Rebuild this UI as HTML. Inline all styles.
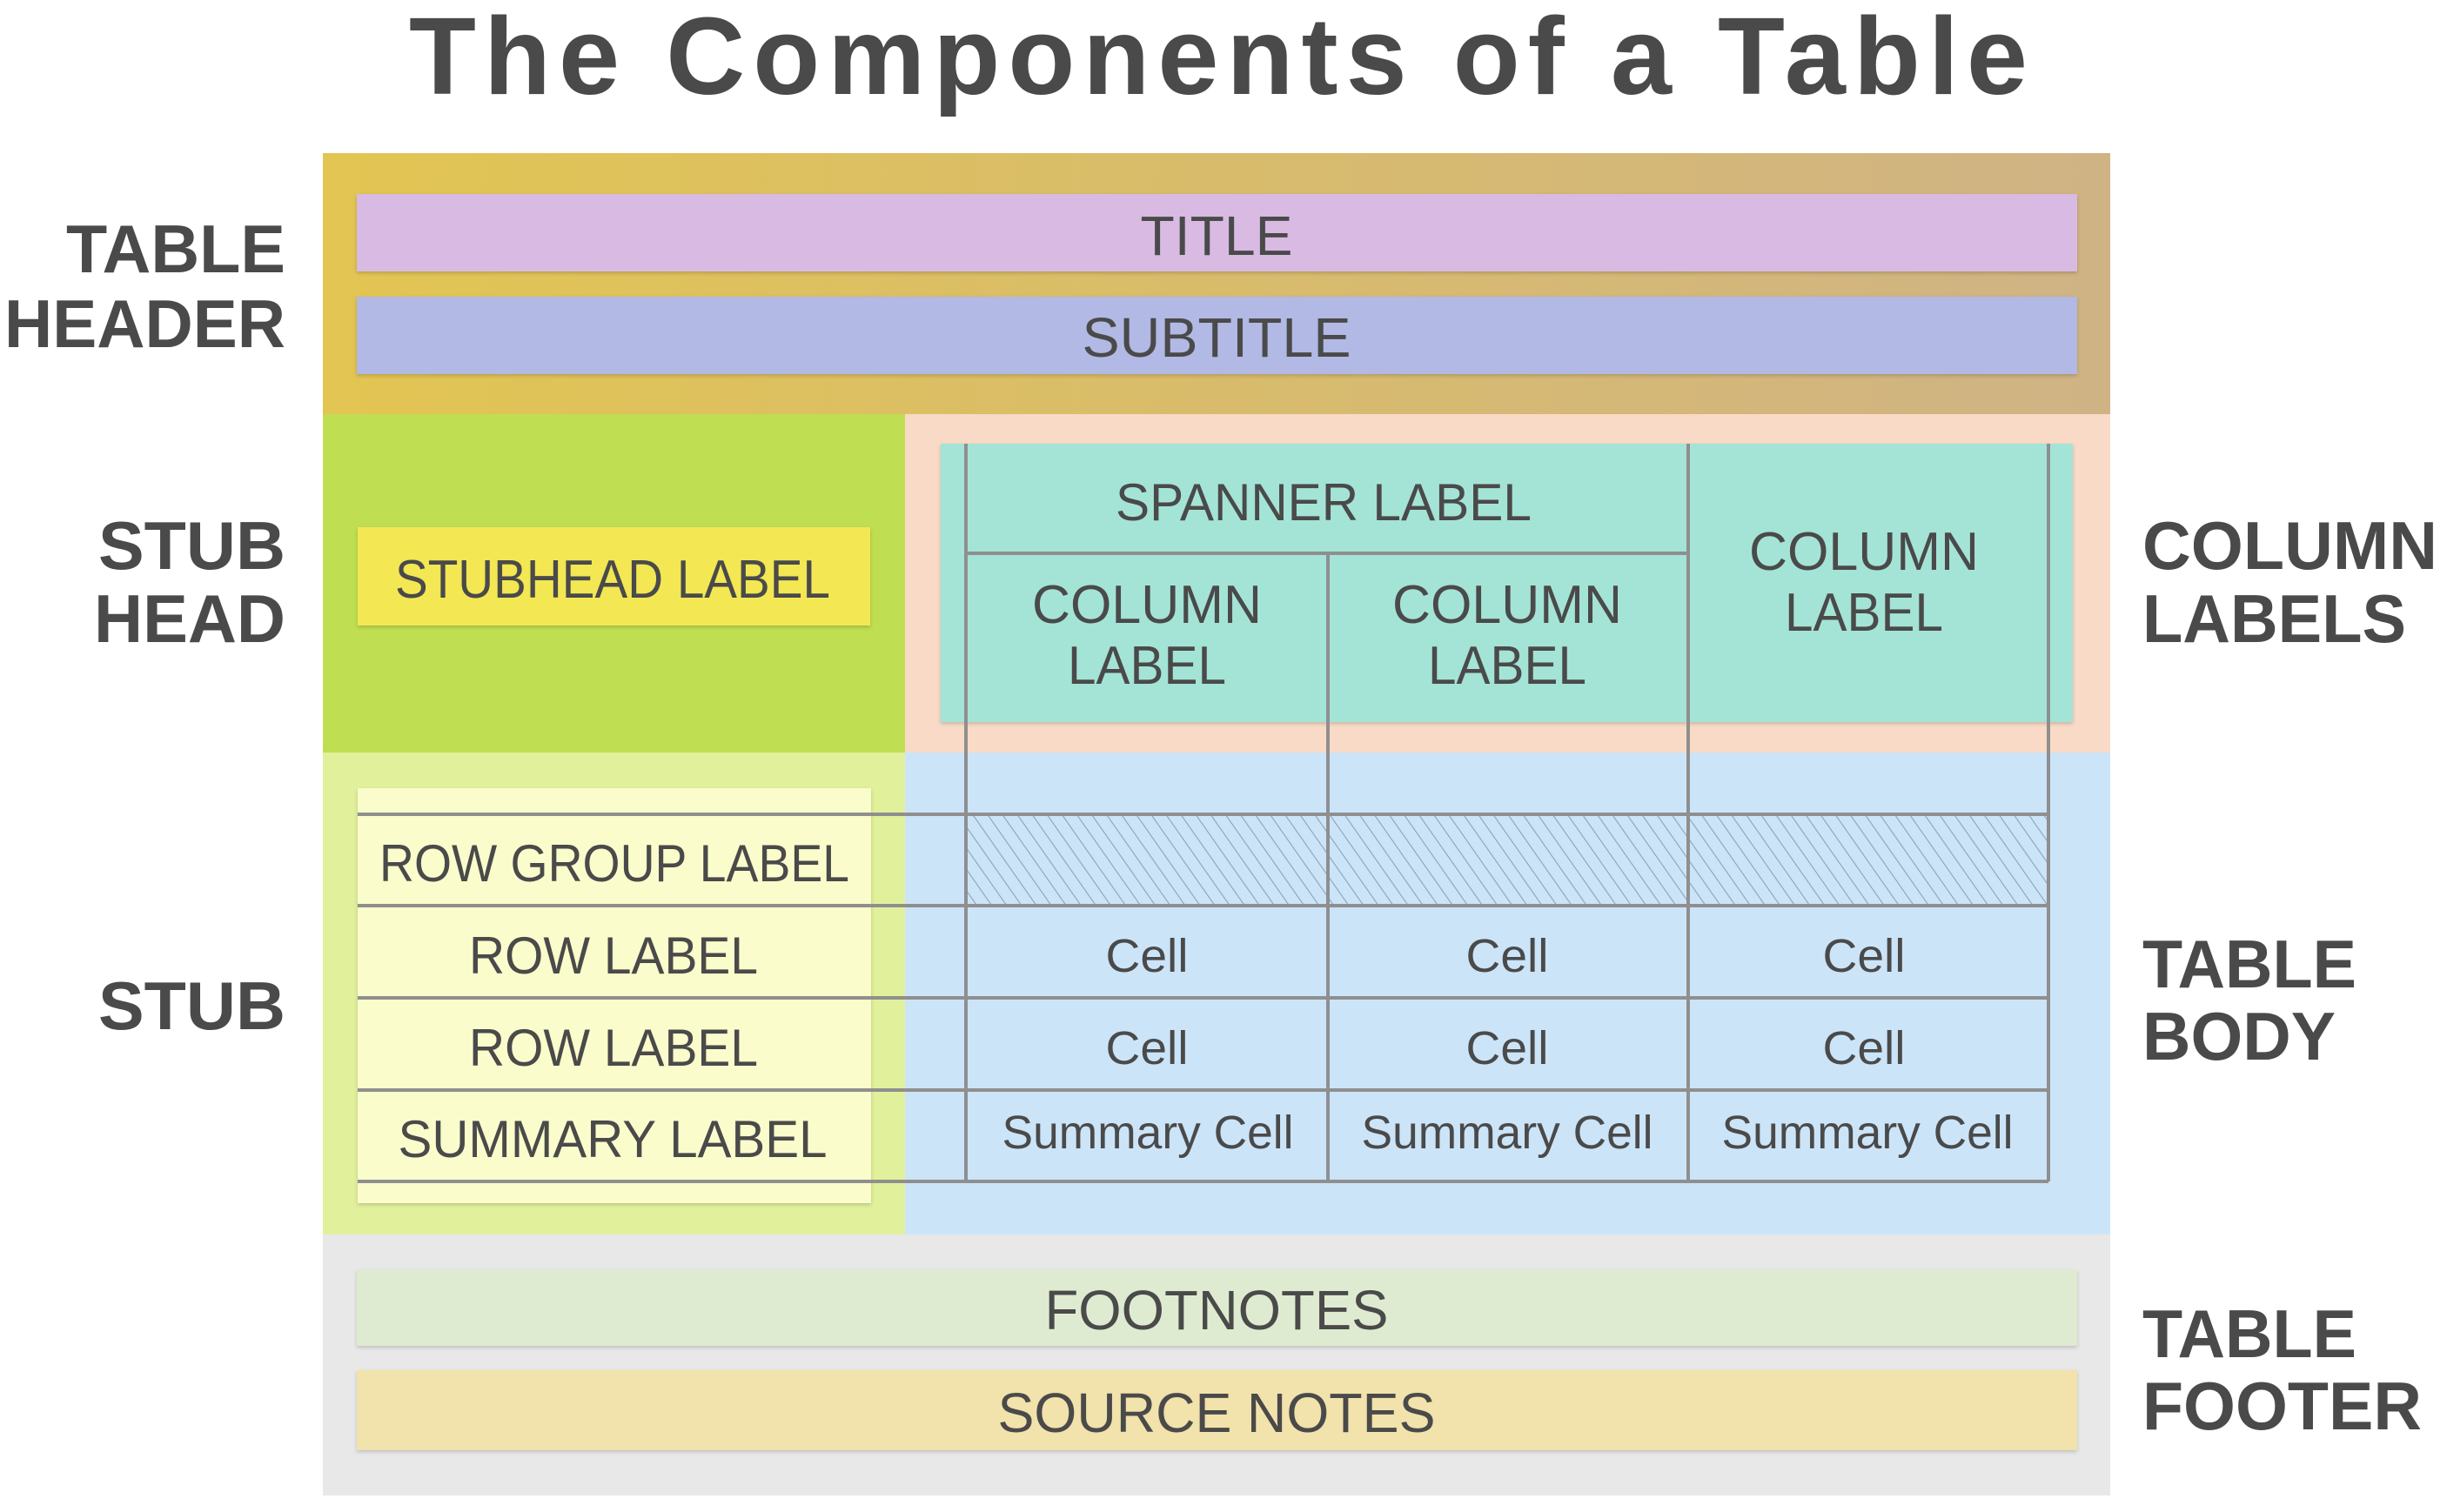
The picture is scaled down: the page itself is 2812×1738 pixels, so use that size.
<!DOCTYPE html>
<html><head><meta charset="utf-8"><style>
html,body{margin:0;padding:0;background:#fff;}
svg{display:block;}
text{font-family:"Liberation Sans",sans-serif;fill:#4a4a4a;}
</style></head><body>
<svg width="2812" height="1738" viewBox="0 0 2812 1738" xmlns="http://www.w3.org/2000/svg">
<defs>
<linearGradient id="hg" x1="0" x2="1" y1="0" y2="0"><stop offset="0" stop-color="#e2c552"/><stop offset="1" stop-color="#cfb385"/></linearGradient>
<pattern id="hatch" width="14" height="14" patternUnits="userSpaceOnUse" patternTransform="rotate(-35)">
<rect width="14" height="14" fill="#cce4f8"/><line x1="0" y1="0" x2="0" y2="14" stroke="#8aa3b8" stroke-width="2.2"/></pattern>
<filter id="sh" x="-5%" y="-20%" width="110%" height="140%"><feDropShadow dx="0" dy="2" stdDeviation="2" flood-color="#000" flood-opacity="0.18"/></filter>
</defs>
<text x="1400" y="108" text-anchor="middle" font-size="126" font-weight="bold" textLength="1860" lengthAdjust="spacing">The Components of a Table</text>

<!-- header -->
<rect x="371" y="176" width="2054" height="300" fill="url(#hg)"/>
<rect x="410" y="223" width="1977" height="89" fill="#d8bae3" filter="url(#sh)"/>
<rect x="410" y="341" width="1977" height="89" fill="#b1b9e4" filter="url(#sh)"/>
<text x="1398" y="293" text-anchor="middle" font-size="64" textLength="175" lengthAdjust="spacingAndGlyphs">TITLE</text>
<text x="1398" y="410" text-anchor="middle" font-size="64" textLength="309" lengthAdjust="spacingAndGlyphs">SUBTITLE</text>

<!-- stub head / column labels -->
<rect x="371" y="476" width="669" height="389" fill="#c0de52"/>
<rect x="1040" y="476" width="1385" height="389" fill="#f8dac6"/>
<rect x="411" y="606" width="589" height="113" fill="#f3e752" filter="url(#sh)"/>
<text x="704" y="687" text-anchor="middle" font-size="62" textLength="500" lengthAdjust="spacingAndGlyphs">STUBHEAD LABEL</text>
<rect x="1081" y="510" width="1301" height="320" fill="#a4e4d6" filter="url(#sh)"/>

<!-- stub / body -->
<rect x="371" y="865" width="669" height="554" fill="#e1f19b"/>
<rect x="1040" y="865" width="1385" height="554" fill="#cce4f8"/>
<rect x="411" y="906" width="590" height="477" fill="#fbfccb" filter="url(#sh)"/>
<rect x="1109" y="936" width="1245" height="104" fill="url(#hatch)"/>

<!-- footer -->
<rect x="371" y="1419" width="2054" height="300" fill="#e8e8e8"/>
<rect x="410" y="1460" width="1977" height="87" fill="#dfebd0" filter="url(#sh)"/>
<rect x="410" y="1575" width="1977" height="92" fill="#f2e2ab" filter="url(#sh)"/>
<text x="1398" y="1528" text-anchor="middle" font-size="64" textLength="395" lengthAdjust="spacingAndGlyphs">FOOTNOTES</text>
<text x="1398" y="1646" text-anchor="middle" font-size="64" textLength="503" lengthAdjust="spacingAndGlyphs">SOURCE NOTES</text>

<!-- grid lines -->
<g stroke="#8f8f8f" stroke-width="4" fill="none">
<line x1="1110" y1="510" x2="1110" y2="1358"/>
<line x1="1526" y1="636" x2="1526" y2="1358"/>
<line x1="1940" y1="510" x2="1940" y2="1358"/>
<line x1="2354" y1="510" x2="2354" y2="1358"/>
<line x1="1110" y1="636" x2="1940" y2="636"/>
<line x1="411" y1="936" x2="2354" y2="936"/>
<line x1="411" y1="1041" x2="2354" y2="1041"/>
<line x1="411" y1="1147" x2="2354" y2="1147"/>
<line x1="411" y1="1253" x2="2354" y2="1253"/>
<line x1="411" y1="1358" x2="2354" y2="1358"/>
</g>

<!-- column label texts -->
<text x="1521" y="598" text-anchor="middle" font-size="60" textLength="478" lengthAdjust="spacingAndGlyphs">SPANNER LABEL</text>
<text x="1318" y="716" text-anchor="middle" font-size="62" textLength="264" lengthAdjust="spacingAndGlyphs">COLUMN</text>
<text x="1318" y="786" text-anchor="middle" font-size="62" textLength="182" lengthAdjust="spacingAndGlyphs">LABEL</text>
<text x="1732" y="716" text-anchor="middle" font-size="62" textLength="264" lengthAdjust="spacingAndGlyphs">COLUMN</text>
<text x="1732" y="786" text-anchor="middle" font-size="62" textLength="182" lengthAdjust="spacingAndGlyphs">LABEL</text>
<text x="2142" y="655" text-anchor="middle" font-size="62" textLength="264" lengthAdjust="spacingAndGlyphs">COLUMN</text>
<text x="2142" y="725" text-anchor="middle" font-size="62" textLength="182" lengthAdjust="spacingAndGlyphs">LABEL</text>

<!-- stub texts -->
<text x="706" y="1013" text-anchor="middle" font-size="60" textLength="540" lengthAdjust="spacingAndGlyphs">ROW GROUP LABEL</text>
<text x="705" y="1119" text-anchor="middle" font-size="60" textLength="332" lengthAdjust="spacingAndGlyphs">ROW LABEL</text>
<text x="705" y="1225" text-anchor="middle" font-size="60" textLength="332" lengthAdjust="spacingAndGlyphs">ROW LABEL</text>
<text x="704" y="1330" text-anchor="middle" font-size="60" textLength="493" lengthAdjust="spacingAndGlyphs">SUMMARY LABEL</text>

<!-- cells -->
<g font-size="54" text-anchor="middle">
<text x="1318" y="1117" textLength="95" lengthAdjust="spacingAndGlyphs">Cell</text>
<text x="1732" y="1117" textLength="95" lengthAdjust="spacingAndGlyphs">Cell</text>
<text x="2142" y="1117" textLength="95" lengthAdjust="spacingAndGlyphs">Cell</text>
<text x="1318" y="1223" textLength="95" lengthAdjust="spacingAndGlyphs">Cell</text>
<text x="1732" y="1223" textLength="95" lengthAdjust="spacingAndGlyphs">Cell</text>
<text x="2142" y="1223" textLength="95" lengthAdjust="spacingAndGlyphs">Cell</text>
<text x="1319" y="1320" textLength="335" lengthAdjust="spacingAndGlyphs">Summary Cell</text>
<text x="1732" y="1320" textLength="335" lengthAdjust="spacingAndGlyphs">Summary Cell</text>
<text x="2146" y="1320" textLength="335" lengthAdjust="spacingAndGlyphs">Summary Cell</text>
</g>

<!-- side labels left -->
<g font-size="78" font-weight="bold" text-anchor="end">
<text x="328" y="313" textLength="252" lengthAdjust="spacingAndGlyphs">TABLE</text>
<text x="328" y="399" textLength="323" lengthAdjust="spacingAndGlyphs">HEADER</text>
<text x="328" y="654" textLength="215" lengthAdjust="spacingAndGlyphs">STUB</text>
<text x="328" y="738" textLength="220" lengthAdjust="spacingAndGlyphs">HEAD</text>
<text x="328" y="1183" textLength="215" lengthAdjust="spacingAndGlyphs">STUB</text>
</g>
<!-- side labels right -->
<g font-size="78" font-weight="bold">
<text x="2462" y="654" textLength="339" lengthAdjust="spacingAndGlyphs">COLUMN</text>
<text x="2462" y="738" textLength="303" lengthAdjust="spacingAndGlyphs">LABELS</text>
<text x="2462" y="1135" textLength="246" lengthAdjust="spacingAndGlyphs">TABLE</text>
<text x="2462" y="1218" textLength="222" lengthAdjust="spacingAndGlyphs">BODY</text>
<text x="2462" y="1560" textLength="246" lengthAdjust="spacingAndGlyphs">TABLE</text>
<text x="2462" y="1643" textLength="321" lengthAdjust="spacingAndGlyphs">FOOTER</text>
</g>
</svg>
</body></html>
